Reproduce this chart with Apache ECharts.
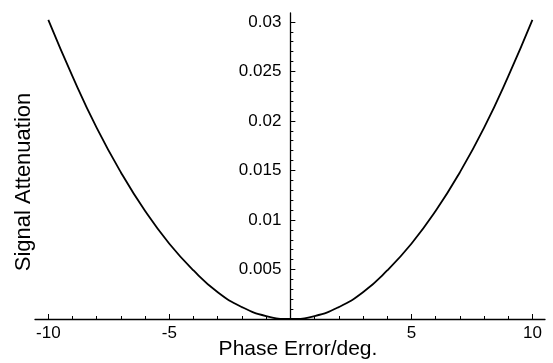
<!DOCTYPE html>
<html>
<head>
<meta charset="utf-8">
<script src="https://cdn.jsdelivr.net/npm/echarts@6/dist/echarts.min.js"></script>
<style>
  html, body { margin: 0; padding: 0; background: #fff; }
  #chart { width: 553px; height: 363px; }
</style>
</head>
<body>
<div id="chart"></div>
<script>
// phase error in degrees
const phaseErr = [-10, -9, -8, -7, -6, -5, -4, -3, -2, -1, 0, 1, 2, 3, 4, 5, 6, 7, 8, 9, 10];
// signal attenuation
const attenuation = [0.0302, 0.0245, 0.0193, 0.0148, 0.0109, 0.0076, 0.0049, 0.0027, 0.0012, 0.0003, 0,
                     0.0003, 0.0012, 0.0027, 0.0049, 0.0076, 0.0109, 0.0148, 0.0193, 0.0245, 0.0302];
const xTicks = [-10, -5, 0, 5, 10];
const xLabels = [-10, -5, 5, 10];
const yTicks = [0, 0.005, 0.01, 0.015, 0.02, 0.025, 0.03];
const yLabels = [0.005, 0.01, 0.015, 0.02, 0.025, 0.03];

const font = 'Liberation Sans, Arial, sans-serif';
const axisCol = '#000';

// y axis sits at x = 0, so shift it right by the distance from grid left
const gridLeft = 35, gridRight = 8, W = 553;
const xMin = -10.55, xMax = 10.52;
const yShift = (W - gridLeft - gridRight) * (0 - xMin) / (xMax - xMin);

const chart = echarts.init(document.getElementById('chart'));
chart.setOption({
  animation: false,
  grid: { left: gridLeft, right: gridRight, top: 13, bottom: 44, containLabel: false, outerBoundsMode: 'none' },
  xAxis: {
    type: 'value',
    min: xMin,
    max: xMax,
    name: 'Phase Error/deg.',
    nameLocation: 'middle',
    nameGap: 20,
    nameMoveOverlap: false,
    nameTextStyle: { fontFamily: font, fontSize: 21, color: '#000', padding: [0, 0, 0, 16] },
    splitLine: { show: false },
    axisLine: { onZero: false, lineStyle: { color: axisCol, width: 1.3 } },
    axisTick: { inside: true, length: 5, customValues: xTicks, lineStyle: { color: axisCol } },
    minorTick: { show: true, splitNumber: 5, length: 3, lineStyle: { color: axisCol } },
    axisLabel: { customValues: xLabels, fontFamily: font, fontSize: 17, color: '#000', margin: 6 }
  },
  yAxis: {
    type: 'value',
    min: 0,
    max: 0.0309,
    offset: -yShift,
    name: 'Signal Attenuation',
    nameLocation: 'middle',
    nameGap: 255,
    nameMoveOverlap: false,
    nameTextStyle: { fontFamily: font, fontSize: 22, color: '#000', padding: [0, 32, 0, 0] },
    splitLine: { show: false },
    axisLine: { onZero: false, lineStyle: { color: axisCol, width: 1.3 } },
    axisTick: { inside: true, length: 5, customValues: yTicks, lineStyle: { color: axisCol } },
    minorTick: { show: true, splitNumber: 5, length: 3, lineStyle: { color: axisCol } },
    axisLabel: { customValues: yLabels, fontFamily: font, fontSize: 17, color: '#000', margin: 9 }
  },
  series: [{
    type: 'line',
    data: phaseErr.map((x, i) => [x, attenuation[i]]),
    smooth: true,
    showSymbol: false,
    lineStyle: { color: '#000', width: 1.8 }
  }]
});
</script>
</body>
</html>
